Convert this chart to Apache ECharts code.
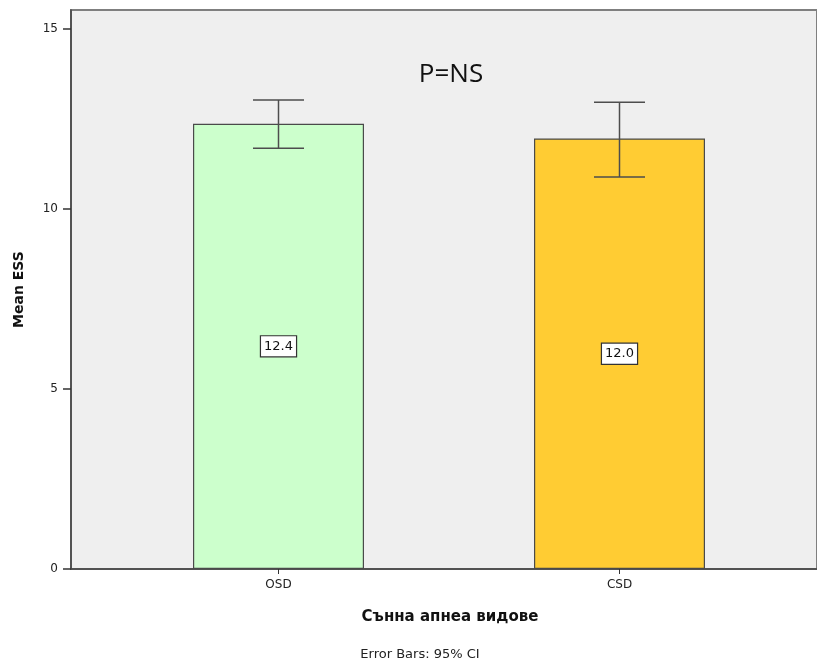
<!DOCTYPE html>
<html>
<head>
<meta charset="utf-8">
<script src="https://cdn.jsdelivr.net/npm/echarts@6/dist/echarts.min.js"></script>
<style>html,body{margin:0;padding:0;background:#fff}#c{width:817px;height:666px}</style>
</head>
<body>
<div id="c"></div>
<script>
var categories = ['OSD', 'CSD'];
var means = [12.37, 11.96];
var ciLow = [11.69, 10.89];
var ciHigh = [13.03, 12.97];
var yTicks = [0, 5, 10, 15];
var barColors = ['#ccffcc', '#ffcc33'];
var yTitle = 'Mean ESS';
var xTitle = 'Сънна апнеа видове';
var footnote = 'Error Bars: 95% CI';
var annotation = 'P=NS';

var YMAX = 15.53;
var chart = echarts.init(document.getElementById('c'), null, {renderer: 'canvas'});
var font = 'DejaVu Sans';

chart.setOption({
  animation: false,
  backgroundColor: '#ffffff',
  grid: [
    {left: 108, right: 27, top: 10, bottom: 97, containLabel: false},
    {left: 71, right: -6, top: 10, bottom: 97, show: true, backgroundColor: '#efefef', borderColor: '#7f7f7f', borderWidth: 2, z: 0}
  ],
  xAxis: [
    {
      gridIndex: 0, type: 'category', data: categories,
      axisLine: {show: false},
      axisTick: {show: true, alignWithLabel: true, length: 5, lineStyle: {color: '#333', width: 1}},
      axisLabel: {color: '#222', fontFamily: font, fontSize: 12, margin: 10},
      splitLine: {show: false}
    },
    {
      gridIndex: 1, type: 'value', min: 0, max: 1,
      axisLine: {show: true, onZero: false, lineStyle: {color: '#444', width: 1.5}},
      axisTick: {show: false}, axisLabel: {show: false}, splitLine: {show: false}
    }
  ],
  yAxis: [
    {
      gridIndex: 0, type: 'value', min: 0, max: YMAX,
      show: false, splitLine: {show: false}
    },
    {
      gridIndex: 1, type: 'value', min: 0, max: YMAX,
      axisLine: {show: true, lineStyle: {color: '#444', width: 1.5}},
      axisTick: {show: true, length: 8, customValues: yTicks, lineStyle: {color: '#333', width: 1.5}},
      axisLabel: {customValues: yTicks, color: '#222', fontFamily: font, fontSize: 12, margin: 13},
      splitLine: {show: false},
      name: yTitle, nameLocation: 'middle', nameGap: 45, nameRotate: 90,
      nameTextStyle: {fontFamily: font, fontSize: 14, fontWeight: 'bold', color: '#111'}
    }
  ],
  series: [
    {
      type: 'bar', xAxisIndex: 0, yAxisIndex: 0, barWidth: 171, z: 3,
      data: means.map(function (v, i) {
        return {value: v, itemStyle: {color: barColors[i], borderColor: '#4a4a4a', borderWidth: 1.2}};
      }),
      label: {
        show: true, position: 'inside',
        formatter: function (p) { return p.value.toFixed(1); },
        color: '#111', fontFamily: font, fontSize: 13,
        backgroundColor: '#fff', borderColor: '#333', borderWidth: 1.2, padding: [4, 3, 3, 3]
      }
    },
    {
      type: 'custom', xAxisIndex: 0, yAxisIndex: 0, z: 5,
      data: categories.map(function (c, i) { return [i, ciLow[i], ciHigh[i]]; }),
      renderItem: function (params, api) {
        var lo = api.coord([api.value(0), api.value(1)]);
        var hi = api.coord([api.value(0), api.value(2)]);
        var hw = 25.5;
        var st = {stroke: '#4d4d4d', lineWidth: 1.5};
        return {
          type: 'group',
          children: [
            {type: 'line', shape: {x1: hi[0], y1: hi[1], x2: lo[0], y2: lo[1]}, style: st},
            {type: 'line', shape: {x1: hi[0] - hw, y1: hi[1], x2: hi[0] + hw, y2: hi[1]}, style: st},
            {type: 'line', shape: {x1: lo[0] - hw, y1: lo[1], x2: lo[0] + hw, y2: lo[1]}, style: st}
          ]
        };
      }
    }
  ],
  graphic: [
    {type: 'text', z: 10, style: {text: annotation, x: 451, y: 75, align: 'center', verticalAlign: 'middle', font: '26px "Open Sans"', fill: '#111'}},
    {type: 'text', style: {text: xTitle, x: 450, y: 617, align: 'center', verticalAlign: 'middle', font: 'bold 15px "DejaVu Sans"', fill: '#111'}},
    {type: 'text', style: {text: footnote, x: 420, y: 655, align: 'center', verticalAlign: 'middle', font: '13px "DejaVu Sans"', fill: '#222'}}
  ]
});
</script>
</body>
</html>
